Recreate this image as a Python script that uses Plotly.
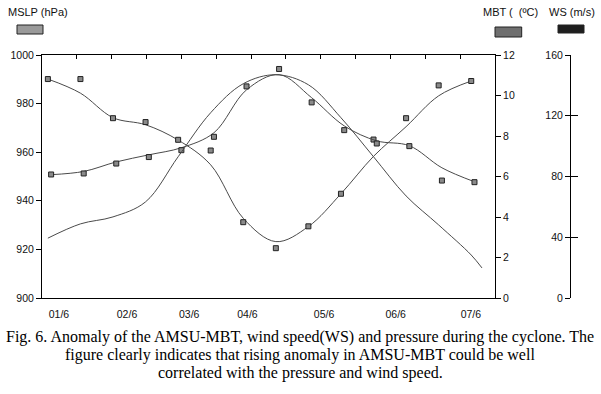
import plotly.graph_objects as go

# ---------------- data ----------------
obs_x = [0, 1, 2, 3, 4, 5, 6, 7, 8, 9, 10, 11, 12, 13]
mbt_x = [0.1, 1.1, 2.1, 3.1, 4.1, 5.1, 6.1, 7.1, 8.1, 9.1, 10.1, 11.1, 12.1, 13.1]
ws_x = [0, 1, 2, 3, 4, 5, 6, 7, 8, 9, 10, 11, 12, 13, 13.33]

mslp_obs = [990.1, 990.1, 974.0, 972.4, 965.1, 960.7, 931.2, 920.5, 929.5, 942.9, 965.2, 974.0, 987.5, 989.3]
mbt_obs = [6.10, 6.15, 6.64, 6.96, 7.30, 7.96, 10.45, 11.31, 9.66, 8.29, 7.63, 7.50, 5.80, 5.72]

mslp_trend = [990.1, 984.3, 974.2, 971.3, 965.0, 954.8, 932.8, 923.2, 929.4, 942.9, 958.3, 970.5, 983.2, 989.3]
mbt_trend = [6.09, 6.25, 6.72, 7.07, 7.42, 8.16, 10.28, 11.03, 9.89, 8.50, 7.76, 7.52, 6.43, 5.74]
ws_trend = [39.4, 48.8, 53.4, 63.3, 93.0, 122.0, 141.1, 147.0, 140.4, 118.7, 93.0, 67.2, 48.1, 28.3, 19.8]

date_labels = ["01/6", "02/6", "03/6", "04/6", "05/6", "06/6", "07/6"]
date_pos = [0.34, 2.43, 4.34, 6.13, 8.48, 10.68, 12.99]

caption = [
    "Fig. 6. Anomaly of the AMSU-MBT, wind speed(WS) and pressure during the cyclone. The",
    "figure clearly indicates that rising anomaly in AMSU-MBT could be well",
    "correlated with the pressure and wind speed.",
]

# ---------------- layout geometry ----------------
W, H = 601, 394
L, R, T, B = 42, 26, 55, 96
PW = W - L - R
PH = H - T - B


def px(x):
    """screen x (reference pixels) -> paper x"""
    return (x - L) / PW


def py(y):
    """screen y (reference pixels) -> paper y"""
    return (H - B - y) / PH


XEND = px(495)
WSPOS = px(570)

LINE_C = "#4a4a4a"
MARK = dict(symbol="square", size=5, color="#8a8a8a", line=dict(color="#222222", width=1))
AX_FONT = dict(family="Liberation Sans, Arial, sans-serif", size=10.5, color="#111111")

fig = go.Figure()

fig.add_trace(go.Scatter(x=obs_x, y=mslp_trend, mode="lines", line=dict(color=LINE_C, width=1, shape="spline"),
                         yaxis="y", showlegend=False, hoverinfo="skip"))
fig.add_trace(go.Scatter(x=mbt_x, y=mbt_trend, mode="lines", line=dict(color=LINE_C, width=1, shape="spline"),
                         yaxis="y2", showlegend=False, hoverinfo="skip"))
fig.add_trace(go.Scatter(x=ws_x, y=ws_trend, mode="lines", line=dict(color=LINE_C, width=1, shape="spline"),
                         yaxis="y3", showlegend=False, name="WS"))
fig.add_trace(go.Scatter(x=obs_x, y=mslp_obs, mode="markers", marker=MARK, yaxis="y",
                         showlegend=False, name="MSLP"))
fig.add_trace(go.Scatter(x=mbt_x, y=mbt_obs, mode="markers", marker=MARK, yaxis="y2",
                         showlegend=False, name="MBT"))

axis_common = dict(showgrid=False, zeroline=False, showline=True, linecolor="black", linewidth=1,
                   tickcolor="black", tickwidth=1, tickfont=AX_FONT, automargin=False)

fig.update_layout(
    width=W, height=H,
    margin=dict(l=L, r=R, t=T, b=B, pad=0, autoexpand=False),
    paper_bgcolor="white", plot_bgcolor="white",
    xaxis=dict(domain=[0, XEND], range=[-0.18, 13.73], tickvals=date_pos, ticktext=date_labels,
               ticks="", ticklabelstandoff=6, **axis_common),
    xaxis2=dict(domain=[0, XEND], range=[0, 13], overlaying="x", side="top", anchor="y",
                dtick=1, tick0=0, ticks="inside", ticklen=4, showticklabels=False, automargin=False,
                showgrid=False, zeroline=False, showline=True, linecolor="black", linewidth=1,
                tickcolor="black", tickwidth=1),
    yaxis=dict(range=[900, 1000], dtick=20, ticks="outside", ticklen=5, anchor="x", **axis_common),
    yaxis2=dict(range=[0, 12], dtick=2, ticks="outside", ticklen=5, overlaying="y", side="right",
                anchor="x", **axis_common),
    yaxis3=dict(range=[0, 160], dtick=40, ticks="outside", ticklen=5, overlaying="y", side="left",
                anchor="free", position=WSPOS, **axis_common),
    yaxis4=dict(range=[0, 160], dtick=40, ticks="inside", ticklen=7, overlaying="y", side="left",
                anchor="free", position=WSPOS, showticklabels=False, showgrid=False, zeroline=False,
                showline=False, tickcolor="black", tickwidth=1, automargin=False),
    showlegend=False,
)

# keep the extra axes visible (an empty trace on x2 / y4)
fig.add_trace(go.Scatter(x=[None], y=[None], xaxis="x2", yaxis="y4", showlegend=False, hoverinfo="skip"))

# legend boxes
boxes = [
    (17, 25, 43, 34, "#9a9a9a"),
    (495, 27, 521.7, 37, "#6f6f6f"),
    (558, 25, 584, 33, "#1e1e1e"),
]
for x0, y0, x1, y1, c in boxes:
    fig.add_shape(type="rect", xref="paper", yref="paper", x0=px(x0), x1=px(x1), y0=py(y1), y1=py(y0),
                  fillcolor=c, line=dict(color="#222222", width=1))

title_font = dict(family="Liberation Sans, Arial, sans-serif", size=11, color="#111111")
for txt, x0 in [("MSLP (hPa)", 7), ("MBT (  (ºC)", 482), ("WS (m/s)", 548)]:
    fig.add_annotation(text=txt, xref="paper", yref="paper", x=px(x0), y=py(12), xanchor="left",
                       yanchor="middle", showarrow=False, font=title_font, borderpad=0)

cap_font = dict(family="Liberation Serif, Times New Roman, serif", size=16, color="black")
for i, line in enumerate(caption):
    fig.add_annotation(text=line, xref="paper", yref="paper", x=px(300), y=py(337 + 18 * i),
                       xanchor="center", yanchor="middle", showarrow=False, font=cap_font)

# remove the browser's default 8px body margin so the figure fills the window exactly
fig.write_html("out.html", config={"displayModeBar": False},
               post_script="document.body.style.margin='0px';")
